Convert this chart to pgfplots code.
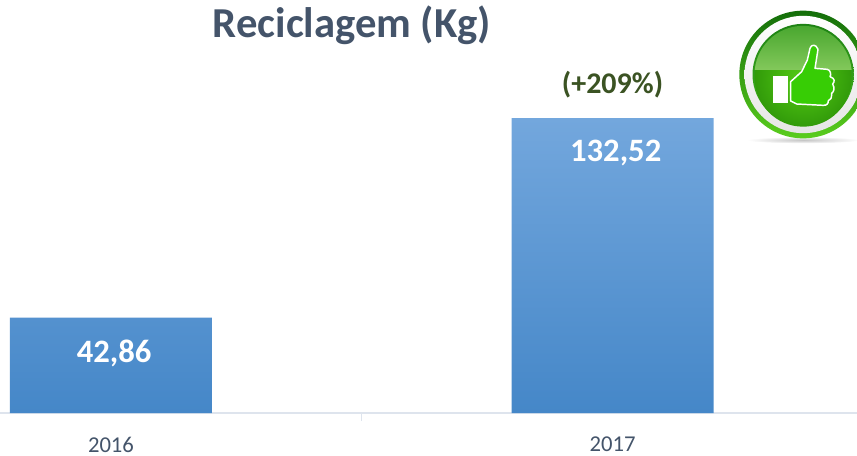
\documentclass[border=0pt]{standalone}
\usepackage{fontspec}
\setmainfont{Carlito}
\usepackage{pgfplots}
\pgfplotsset{compat=1.18}
\definecolor{slate}{HTML}{44546A}
\definecolor{axisl}{HTML}{DEE4ED}
\definecolor{dgreen}{HTML}{3B5323}
\begin{document}
\begin{tikzpicture}
\useasboundingbox (0,0) rectangle (642.75pt,341.25pt);
\begin{axis}[
  at={(0,31.5pt)}, anchor=south west,
  scale only axis, width=642.75pt, height=309.75pt,
  xmin=-0.2213, xmax=1.4875, ymin=0, ymax=185.53,
  axis x line=bottom, axis y line=none,
  axis line style={axisl,line width=1.5pt,-},
  xtick={0,1}, xticklabels={2016,2017},
  minor xtick={0.5},
  major tick length=0pt, minor tick length=6pt,
  tick align=outside,
  minor tick style={axisl,line width=1pt},
  xticklabel style={font=\fontsize{17}{17}\selectfont,text=slate,inner sep=0pt,yshift=-17.6pt},
  clip=false,
]
\addplot[ybar,bar width=151.5pt,draw=none,
  top color={rgb,255:red,115;green,167;blue,221},
  middle color={rgb,255:red,85;green,153;blue,219},
  bottom color={rgb,255:red,69;green,135;blue,200},
  nodes near coords={\pgfmathprintnumber[assume math mode=true,fixed,fixed zerofill,precision=2,use comma]{\pgfplotspointmeta}},
  nodes near coords align={below},
  every node near coord/.append style={font=\bfseries\fontsize{24.5}{24.5}\selectfont,text=white,xshift=2.4pt,yshift=-13pt},
] coordinates {(0,42.86) (1,132.52)};
\node[font=\bfseries\fontsize{22.5}{22.5}\selectfont,text=dgreen] at (axis cs:1.0,147.5) {(+209\%)};
\end{axis}
\node[font=\bfseries\fontsize{32}{32}\selectfont,text=slate] at (264pt,322.5pt) {Reciclagem (Kg)};
% thumbs-up icon, in zoom-crop coordinates
\begin{scope}
\clip (0,0) rectangle (642.75pt,341.25pt);
\begin{scope}[shift={(540pt,341.25pt)},x=0.25pt,y=-0.25pt]
\shade[inner color=gray!45,outer color=white,draw=none] (250,420) ellipse (170 and 10);
\shade[top color={rgb,255:red,20;green,110;blue,10},bottom color={rgb,255:red,90;green,205;blue,30},draw=none] (249.5,223.5) circle (191.5);
\shade[top color=white,bottom color=white!90!black,draw=none] (249.5,223.5) circle (176);
\shade[top color={rgb,255:red,30;green,130;blue,20},bottom color={rgb,255:red,70;green,185;blue,30},draw=none] (249.5,223.5) circle (152);
\shade[inner color={rgb,255:red,85;green,205;blue,20},outer color={rgb,255:red,50;green,155;blue,10},draw=none] (249.5,235) circle (145);
\begin{scope}
\clip (249.5,223.5) circle (146);
\shade[top color={rgb,255:red,70;green,165;blue,45},bottom color={rgb,255:red,130;green,200;blue,90},draw=none] (90,70) rectangle (410,208);
\end{scope}
\fill[white] (160,228) rectangle (205,310);
\draw[white,line width=1.1pt,fill={rgb,255:red,55;green,205;blue,5},line join=round]
  (212,245) -- (245,215) -- (262,180) -- (270,145) .. controls (274,132) and (288,132) .. (294,148) -- (285,205) -- (322,208) .. controls (332,210) and (334,225) .. (330,230) .. controls (345,235) and (345,245) .. (338,252) .. controls (345,265) and (342,275) .. (335,280) .. controls (335,295) and (332,300) .. (325,302) .. controls (325,312) and (320,316) .. (310,316) -- (230,312) -- (212,303) -- cycle;
\end{scope}
\end{scope}
\end{tikzpicture}
\end{document}
